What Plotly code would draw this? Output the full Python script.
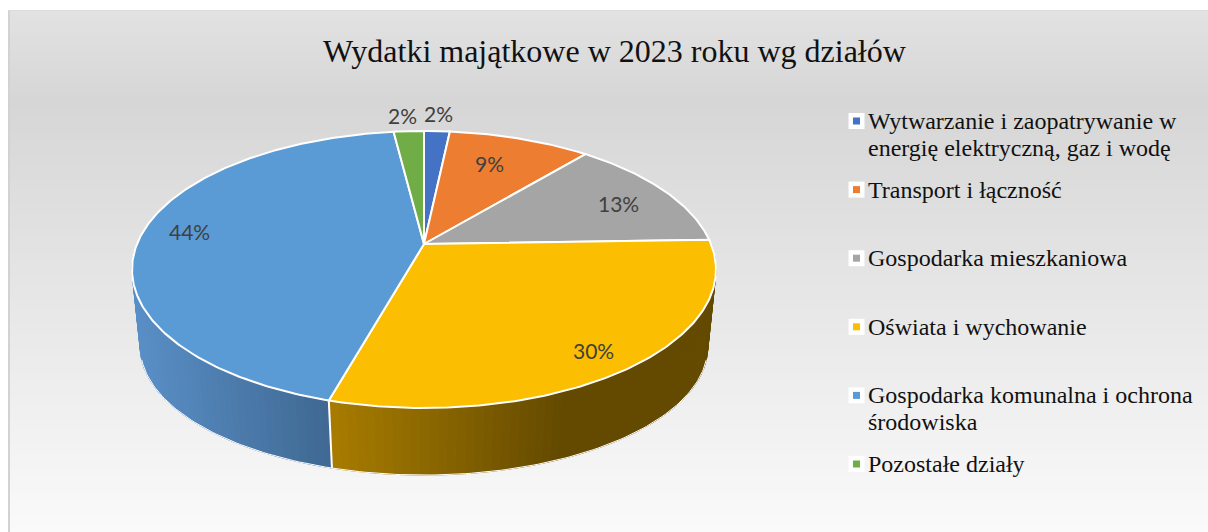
import math
import plotly.graph_objects as go

# --- data -------------------------------------------------------------
title_text = "Wydatki majątkowe w 2023 roku wg działów"
categories = [
    "Wytwarzanie i zaopatrywanie w<br>energię elektryczną, gaz i wodę",
    "Transport i łączność",
    "Gospodarka mieszkaniowa",
    "Oświata i wychowanie",
    "Gospodarka komunalna i ochrona<br>środowiska",
    "Pozostałe działy",
]
values = [1.7, 9.4, 13.4, 29.9, 43.6, 2.0]
colors = ["#4472C4", "#ED7D31", "#A5A5A5", "#FBBE00", "#5B9BD5", "#70AD47"]

# label placement: radial position in the pie, small angle shift (degrees)
label_radius = [1.185, 0.719, 0.787, 0.866, 0.836, 1.174]
label_shift = [0.0, -2.3, 1.8, 1.4, 2.4, -0.9]

# wall shading: (screen x, rgb)
wall_shade = {
    3: [(331, (168, 124, 0)), (560, (100, 74, 0)), (716, (100, 74, 0))],
    4: [(131, (90, 144, 200)), (331, (63, 104, 146))],
}

# --- projection of the tilted disc ------------------------------------
CX, CY = 424.0, 244.0
A, B, P = 287.0, 133.8, 0.184
B_BOT, H, Q = 113.0, 82.0, 0.028


def project(theta_deg, r=1.0, bottom=False):
    t = math.radians(theta_deg)
    u, v = r * math.sin(t), -r * math.cos(t)
    if bottom:
        w = 1 - P * v + Q
        return CX + A * u / w, CY + (B_BOT * v + H) / w
    w = 1 - P * v
    return CX + A * u / w, CY + B * v / w


total = sum(values)
edges = [0.0]
for val in values:
    edges.append(edges[-1] + 360.0 * val / total)


def shade(idx, x):
    stops = wall_shade[idx]
    if x <= stops[0][0]:
        c = stops[0][1]
    elif x >= stops[-1][0]:
        c = stops[-1][1]
    else:
        for (x0, c0), (x1, c1) in zip(stops, stops[1:]):
            if x0 <= x <= x1:
                f = (x - x0) / (x1 - x0)
                c = tuple(a + (b - a) * f for a, b in zip(c0, c1))
                break
    return "rgb(%d,%d,%d)" % tuple(round(a) for a in c)


fig = go.Figure()

# --- walls ------------------------------------------------------------
WALL_FROM, WALL_TO = 90.0, 270.0
RIM_FROM, RIM_TO = 106, 254
rim_x, rim_y = [], []
for i in wall_shade:
    a0, a1 = max(edges[i], WALL_FROM), min(edges[i + 1], WALL_TO)
    n = max(2, int((a1 - a0) / 1.5))
    for k in range(n):
        t0 = a0 + (a1 - a0) * k / n
        t1 = a0 + (a1 - a0) * (k + 1) / n
        p = [project(t0), project(t1), project(t1, bottom=True), project(t0, bottom=True)]
        col = shade(i, sum(q[0] for q in p) / 4)
        fig.add_trace(go.Scatter(
            x=[q[0] for q in p] + [p[0][0]], y=[q[1] for q in p] + [p[0][1]],
            mode="lines", fill="toself", fillcolor=col,
            line=dict(color=col, width=1), hoverinfo="skip", showlegend=False))

for t in range(RIM_FROM, RIM_TO + 1):
    x, y = project(t, bottom=True)
    rim_x.append(x)
    rim_y.append(y)
fig.add_trace(go.Scatter(x=rim_x, y=rim_y, mode="lines",
                         line=dict(color="white", width=1),
                         hoverinfo="skip", showlegend=False))
div_top, div_bot = project(edges[4]), project(edges[4], bottom=True)
fig.add_trace(go.Scatter(x=[div_top[0], div_bot[0]], y=[div_top[1], div_bot[1]], mode="lines",
                         line=dict(color="white", width=2),
                         hoverinfo="skip", showlegend=False))

# --- top face ---------------------------------------------------------
for i, (name, val, col) in enumerate(zip(categories, values, colors)):
    a0, a1 = edges[i], edges[i + 1]
    n = max(4, int((a1 - a0) / 0.75))
    pts = [project(a0 + (a1 - a0) * k / n) for k in range(n + 1)]
    xs = [CX] + [q[0] for q in pts] + [CX]
    ys = [CY] + [q[1] for q in pts] + [CY]
    fig.add_trace(go.Scatter(
        x=xs, y=ys, mode="lines", fill="toself", fillcolor=col,
        line=dict(color="white", width=2), name=name.replace("<br>", " "),
        hoverinfo="name", showlegend=False))

# --- percentage labels ------------------------------------------------
annotations = []
for i, val in enumerate(values):
    mid = (edges[i] + edges[i + 1]) / 2 + label_shift[i]
    x, y = project(mid, label_radius[i])
    annotations.append(dict(
        x=x, y=y, xref="x", yref="y", text="%d%%" % round(100 * val / total),
        showarrow=False, xanchor="center", yanchor="middle",
        font=dict(family="Lato", size=21, color="#404040")))

# --- legend (uneven row spacing, drawn by hand) -------------------------
LEG_X, LEG_Y0, LEG_STEP, LINE_STEP = 856.5, 121.0, 68.6, 27.0
leg_y = [LEG_Y0 + LEG_STEP * i for i in range(len(categories))]
fig.add_trace(go.Scatter(
    x=[LEG_X] * len(categories), y=leg_y, mode="markers",
    marker=dict(symbol="square", size=16, color="white", line=dict(width=0)),
    hoverinfo="skip", showlegend=False))
fig.add_trace(go.Scatter(
    x=[LEG_X] * len(categories), y=leg_y, mode="markers",
    marker=dict(symbol="square", size=7, color=colors, line=dict(width=0)),
    hoverinfo="skip", showlegend=False))
for name, y in zip(categories, leg_y):
    for j, line in enumerate(name.split("<br>")):
        annotations.append(dict(
            x=866, y=y + j * LINE_STEP, xref="x", yref="y", text=line, showarrow=False,
            xanchor="left", yanchor="middle", align="left",
            font=dict(family="Liberation Serif", size=24, color="#111111")))

annotations.append(dict(
    x=614, y=51, xref="x", yref="y", text=title_text, showarrow=False,
    xanchor="center", yanchor="middle",
    font=dict(family="Liberation Serif", size=32, color="#111111")))

# --- background gradient ------------------------------------------------
shapes = []
TOP, DARK, BOTTOM = 10, 100, 532
G_TOP, G_DARK, G_BOTTOM = 226, 214, 250
for y in range(TOP, BOTTOM, 3):
    if y < DARK:
        g = G_TOP + (G_DARK - G_TOP) * (y - TOP) / (DARK - TOP)
    else:
        g = G_DARK + (G_BOTTOM - G_DARK) * (y - DARK) / (BOTTOM - DARK)
    g = round(g)
    shapes.append(dict(type="rect", xref="x", yref="y", x0=8, x1=1208, y0=y, y1=y + 3,
                       fillcolor="rgb(%d,%d,%d)" % (g, g, g), line=dict(width=0), layer="below"))
shapes.append(dict(type="line", xref="x", yref="y", x0=9, x1=9, y0=10, y1=532,
                   line=dict(color="#d2d2d2", width=2), layer="below"))
shapes.append(dict(type="line", xref="x", yref="y", x0=8, x1=1208, y0=10.5, y1=10.5,
                   line=dict(color="#dcdcdc", width=1), layer="below"))

fig.update_layout(
    width=1208, height=532, margin=dict(l=0, r=0, t=0, b=0),
    paper_bgcolor="white", plot_bgcolor="rgba(0,0,0,0)",
    xaxis=dict(range=[0, 1208], visible=False, fixedrange=True),
    yaxis=dict(range=[532, 0], visible=False, fixedrange=True),
    shapes=shapes, annotations=annotations, showlegend=False,
)
fig.write_html("out.html", post_script="document.body.style.margin='0';",
               config={"displayModeBar": False})
